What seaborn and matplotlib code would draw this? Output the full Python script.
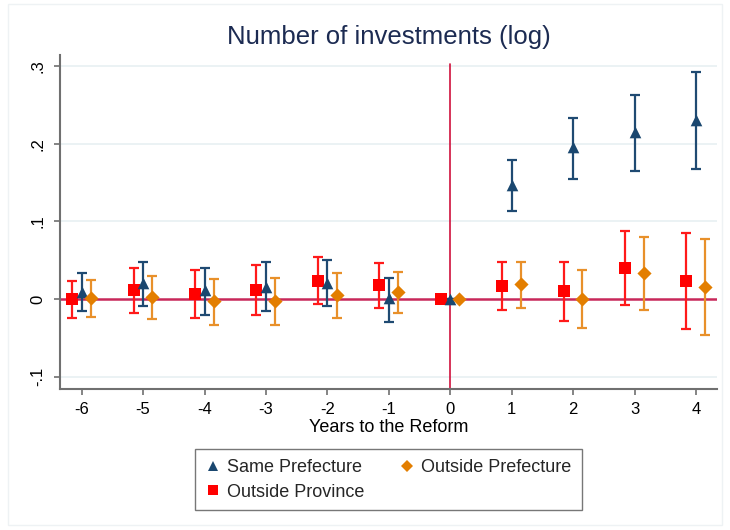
import matplotlib
matplotlib.use("Agg")
import matplotlib.pyplot as plt
from matplotlib.lines import Line2D
from matplotlib.patches import Rectangle
import numpy as np
import pandas as pd
import seaborn as sns

# ---- data ----
years = [-6, -5, -4, -3, -2, -1, 0, 1, 2, 3, 4]

same_pref_coef = [0.009, 0.020, 0.012, 0.016, 0.021, 0.001, 0.0, 0.147, 0.195, 0.215, 0.230]
same_pref_lo   = [-0.016, -0.009, -0.021, -0.016, -0.009, -0.029, 0.0, 0.113, 0.155, 0.165, 0.167]
same_pref_hi   = [0.033, 0.048, 0.040, 0.047, 0.050, 0.027, 0.0, 0.179, 0.233, 0.263, 0.292]

out_prov_coef = [0.0, 0.012, 0.007, 0.012, 0.023, 0.018, 0.0, 0.017, 0.010, 0.040, 0.023]
out_prov_lo   = [-0.025, -0.018, -0.024, -0.020, -0.007, -0.011, 0.0, -0.014, -0.028, -0.008, -0.038]
out_prov_hi   = [0.023, 0.040, 0.037, 0.044, 0.054, 0.046, 0.0, 0.048, 0.047, 0.087, 0.085]

out_pref_coef = [0.001, 0.003, -0.003, -0.003, 0.005, 0.009, 0.0, 0.019, 0.0, 0.033, 0.016]
out_pref_lo   = [-0.023, -0.026, -0.033, -0.033, -0.024, -0.018, 0.0, -0.012, -0.037, -0.014, -0.046]
out_pref_hi   = [0.024, 0.030, 0.026, 0.027, 0.033, 0.035, 0.0, 0.048, 0.037, 0.080, 0.077]

series_names = ["Same Prefecture", "Outside Prefecture", "Outside Province"]
x_ticks = [-6, -5, -4, -3, -2, -1, 0, 1, 2, 3, 4]
y_ticks = [-0.1, 0, 0.1, 0.2, 0.3]
y_tick_labels = ["-.1", "0", ".1", ".2", ".3"]

# ---- style ----
sns.set_theme(style="white")
plt.rcParams["font.family"] = ["Liberation Sans", "DejaVu Sans"]

colors = {"Same Prefecture": "#1a476f", "Outside Prefecture": "#e37e00", "Outside Province": "#ff0000"}
ecolors = {"Same Prefecture": "#1f4a72", "Outside Prefecture": "#e8902a", "Outside Province": "#ff1a1a"}
markers = {"Same Prefecture": "^", "Outside Prefecture": "D", "Outside Province": "s"}
sizes = {"Same Prefecture": 70, "Outside Prefecture": 52, "Outside Province": 66}
dodge = {"Same Prefecture": 0.0, "Outside Prefecture": 0.15, "Outside Province": -0.155}

frames = []
for name, c, lo, hi in [
    ("Same Prefecture", same_pref_coef, same_pref_lo, same_pref_hi),
    ("Outside Prefecture", out_pref_coef, out_pref_lo, out_pref_hi),
    ("Outside Province", out_prov_coef, out_prov_lo, out_prov_hi),
]:
    frames.append(pd.DataFrame({"year": years, "coef": c, "lo": lo, "hi": hi, "series": name}))
df = pd.concat(frames, ignore_index=True)
df["xpos"] = df["year"] + df["series"].map(dodge)

fig = plt.figure(figsize=(7.3, 5.3), dpi=100)
ax = fig.add_axes([60 / 730, 1 - 389 / 530, (717 - 60) / 730, (389 - 55) / 530])

# faint outer frame
fig.patches.append(Rectangle((8 / 730, 0.01), 1 - 16 / 730, 1 - 0.018, transform=fig.transFigure,
                             fill=False, edgecolor="#eef2f4", lw=1, zorder=0))

ax.set_xlim(-6.353, 4.342)
ax.set_ylim(-0.1158, 0.314)

# grid
for yv in y_ticks:
    if yv != 0:
        ax.axhline(yv, color="#e8f0f2", lw=1.2, zorder=0)

# reference lines
ax.axhline(0, color="#c8285a", lw=1.8, zorder=1)
ax.axvline(0, ymin=0, ymax=0.973, color="#d0103c", lw=1.2, zorder=1)

draw_order = ["Outside Province", "Same Prefecture", "Outside Prefecture"]
for name in draw_order:
    d = df[df["series"] == name]
    ax.errorbar(d["xpos"], d["coef"],
                yerr=[d["coef"] - d["lo"], d["hi"] - d["coef"]],
                fmt="none", ecolor=ecolors[name], elinewidth=1.6, capsize=3.6, capthick=1.6, zorder=2)

for name in draw_order:
    d = df[df["series"] == name]
    sns.scatterplot(data=d, x="xpos", y="coef", marker=markers[name], color=colors[name],
                    s=sizes[name], linewidth=0, ax=ax, zorder=3, legend=False)

# axes styling
for s in ["top", "right"]:
    ax.spines[s].set_visible(False)
for s in ["left", "bottom"]:
    ax.spines[s].set_color("#707070")
    ax.spines[s].set_linewidth(1.5)

ax.set_xticks(x_ticks)
ax.set_xticklabels([str(v) for v in x_ticks])
ax.set_yticks(y_ticks)
ax.set_yticklabels(y_tick_labels, rotation=90, va="center")
ax.tick_params(axis="both", which="major", direction="out", length=4.5, width=1.2,
               color="#707070", labelsize=12, labelcolor="black", bottom=True, left=True)
ax.tick_params(axis="y", pad=6)
ax.tick_params(axis="x", pad=5)

ax.set_xlabel("Years to the Reform", fontsize=13, color="black", labelpad=1)
ax.set_ylabel("")
fig.text(388.5 / 730, 1 - 37 / 530, "Number of investments (log)", ha="center", va="center",
         fontsize=18.5, color="#1c2b52")

# legend (row-major: Same, Outside Pref / Outside Prov)
handles = []
for name in ["Same Prefecture", "Outside Province", "Outside Prefecture"]:
    ms = {"Same Prefecture": 7.5, "Outside Prefecture": 6.5, "Outside Province": 7.5}[name]
    handles.append(Line2D([], [], linestyle="none", marker=markers[name], color=colors[name],
                          markersize=ms, markeredgewidth=0, label=name))
leg = fig.legend(handles=handles, ncol=2, loc="upper center", bbox_to_anchor=(388.5 / 730, 1 - 449 / 530),
                 frameon=True, fancybox=False, fontsize=13, handlelength=0.8, handletextpad=0.4,
                 columnspacing=1.95, borderpad=0.55, labelspacing=0.42, borderaxespad=0)
leg.get_frame().set_edgecolor("#555555")
leg.get_frame().set_linewidth(1.0)

fig.savefig("out.png", dpi=100, facecolor="white")
